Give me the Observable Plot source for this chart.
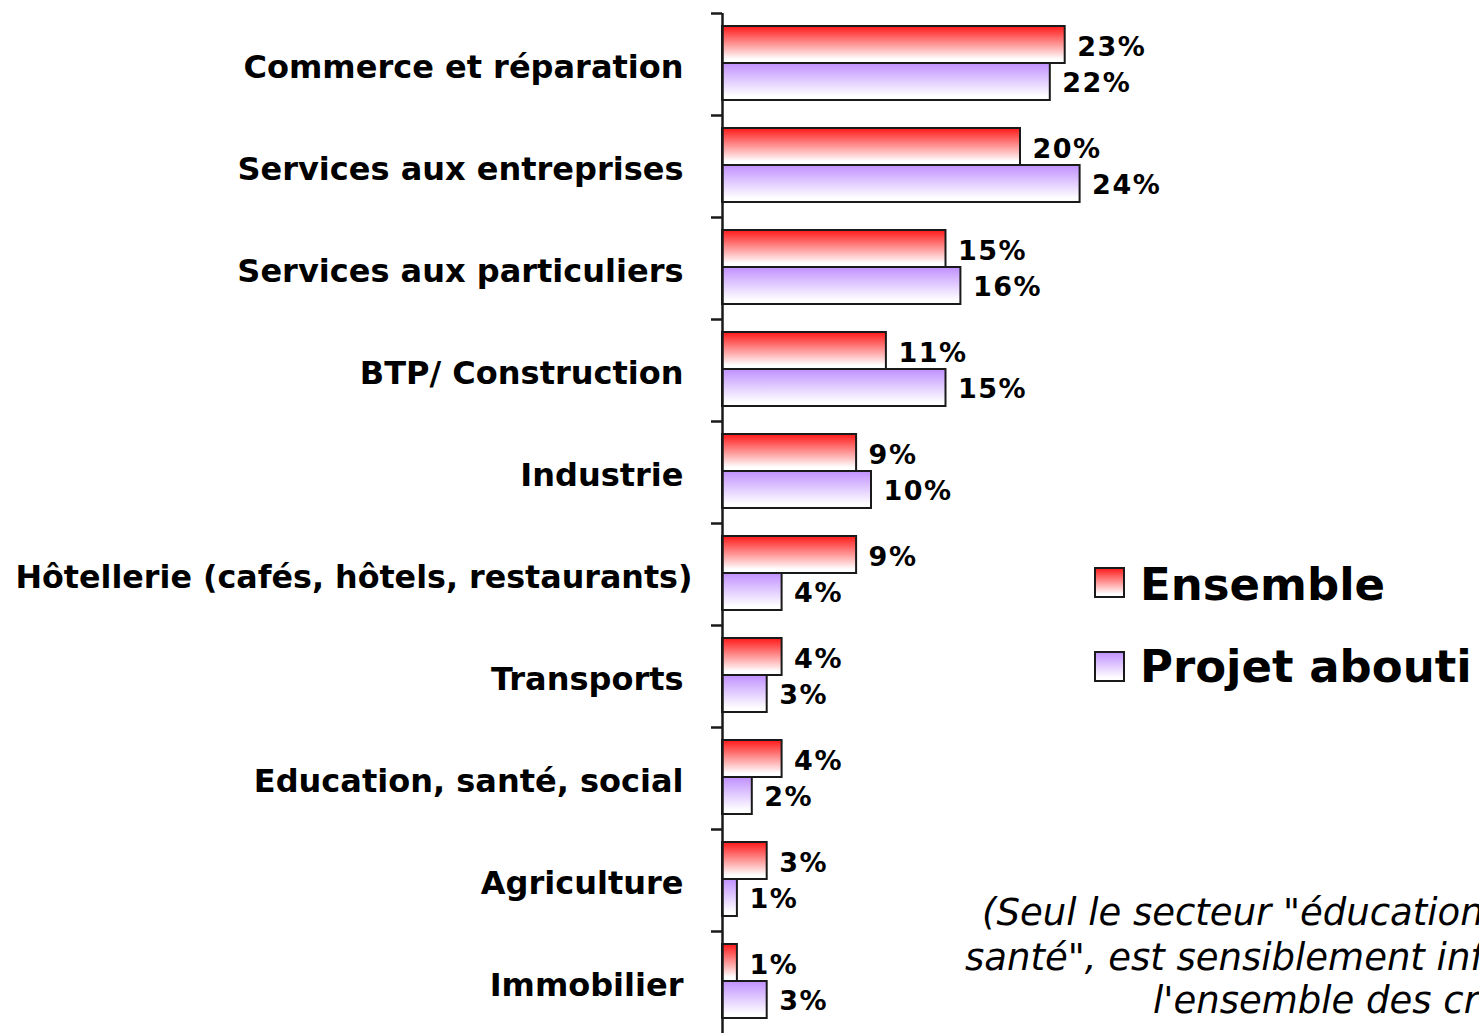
<!DOCTYPE html>
<html>
<head>
<meta charset="utf-8">
<script src="https://cdn.jsdelivr.net/npm/d3@7"></script>
<script src="https://cdn.jsdelivr.net/npm/@observablehq/plot@0.6"></script>
<style>
  html, body { margin: 0; padding: 0; background: #fff; overflow: hidden; }
  #wrap { position: relative; width: 1479px; height: 1034px; overflow: hidden; }
  #overlay { position: absolute; left: 0; top: 0; pointer-events: none; }
</style>
</head>
<body>
<div id="wrap"></div>
<script>
const categories = [
  "Commerce et réparation",
  "Services aux entreprises",
  "Services aux particuliers",
  "BTP/ Construction",
  "Industrie",
  "Hôtellerie (cafés, hôtels, restaurants)",
  "Transports",
  "Education, santé, social",
  "Agriculture",
  "Immobilier"
];
const seriesNames = ["Ensemble", "Projet abouti"];
const ensemble = [23, 20, 15, 11, 9, 9, 4, 4, 3, 1];
const projet   = [22, 24, 16, 15, 10, 4, 3, 2, 1, 3];
const noteLines = [
  "(Seul le secteur \"éducation, social,",
  "santé\", est sensiblement inférieur à",
  "l'ensemble des créations)"
];

const rowsE = categories.map((c, i) => ({category: c, series: seriesNames[0], value: ensemble[i]}));
const rowsP = categories.map((c, i) => ({category: c, series: seriesNames[1], value: projet[i]}));

const FONT = "'DejaVu Sans', Verdana, sans-serif";
const STROKE = "#1a1a1a";

const chart = Plot.plot({
  width: 1479,
  height: 1034,
  marginLeft: 722,
  marginRight: 12,
  marginTop: 13,
  marginBottom: 1,
  style: {fontFamily: FONT, background: "#fff", color: "#000"},
  x: {domain: [0, 50], axis: null},
  y: {domain: categories, padding: 0, axis: null},
  marks: [
    Plot.barX(rowsE, {x: "value", y: "category", fill: "url(#gradRed)", stroke: STROKE, strokeWidth: 2, insetTop: 13, insetBottom: 52}),
    Plot.barX(rowsP, {x: "value", y: "category", fill: "url(#gradPurple)", stroke: STROKE, strokeWidth: 2, insetTop: 50, insetBottom: 15}),
    Plot.ruleX([0], {stroke: STROKE, strokeWidth: 2.5}),
    Plot.axisY({anchor: "left", label: null, tickSize: 11, tickFormat: () => "", dy: -51, stroke: STROKE, strokeWidth: 2.5}),
    Plot.axisY({anchor: "left", label: null, tickSize: 0, tickPadding: 39, fontSize: 32, fontWeight: "bold", dy: 3, fill: "#000"}),
    Plot.text(rowsE, {x: "value", y: "category", text: d => d.value + "%", dx: 12, dy: -17, textAnchor: "start", fontSize: 27, fontWeight: "bold", fill: "#000"}),
    Plot.text(rowsP, {x: "value", y: "category", text: d => d.value + "%", dx: 12, dy: 19, textAnchor: "start", fontSize: 27, fontWeight: "bold", fill: "#000"})
  ]
});

// gradients
const NS = "http://www.w3.org/2000/svg";
function makeGrad(id, top) {
  const g = document.createElementNS(NS, "linearGradient");
  g.setAttribute("id", id);
  g.setAttribute("x1", "0"); g.setAttribute("y1", "0");
  g.setAttribute("x2", "0"); g.setAttribute("y2", "1");
  const stops = [[0, top], [0.9, "#ffffff"], [1, "#ffffff"]];
  stops.forEach(([o, c]) => {
    const s = document.createElementNS(NS, "stop");
    s.setAttribute("offset", o); s.setAttribute("stop-color", c);
    g.appendChild(s);
  });
  return g;
}
const defs = document.createElementNS(NS, "defs");
defs.appendChild(makeGrad("gradRed", "#ff1818"));
defs.appendChild(makeGrad("gradPurple", "#c090ff"));
chart.insertBefore(defs, chart.firstChild);

// letter spacing for the value labels, compress the long category label
chart.querySelectorAll("text").forEach(t => {
  if (/%$/.test(t.textContent)) t.setAttribute("letter-spacing", "1.5");
  if (t.textContent === categories[5]) {
    t.setAttribute("textLength", "677");
    t.setAttribute("lengthAdjust", "spacingAndGlyphs");
    t.setAttribute("x", "9");
  }
});

const wrap = document.getElementById("wrap");
wrap.appendChild(chart);

// legend + note overlay
const ov = document.createElementNS(NS, "svg");
ov.setAttribute("id", "overlay");
ov.setAttribute("width", "1479");
ov.setAttribute("height", "1034");
ov.setAttribute("font-family", FONT);
const odefs = document.createElementNS(NS, "defs");
odefs.appendChild(makeGrad("lgRed", "#ff1818"));
odefs.appendChild(makeGrad("lgPurple", "#c090ff"));
ov.appendChild(odefs);
const legendItems = [
  {name: seriesNames[0], grad: "lgRed", top: 568, base: 600},
  {name: seriesNames[1], grad: "lgPurple", top: 652, base: 682}
];
legendItems.forEach(it => {
  const r = document.createElementNS(NS, "rect");
  r.setAttribute("x", 1095); r.setAttribute("y", it.top);
  r.setAttribute("width", 29); r.setAttribute("height", 29);
  r.setAttribute("fill", `url(#${it.grad})`);
  r.setAttribute("stroke", STROKE); r.setAttribute("stroke-width", 2);
  ov.appendChild(r);
  const t = document.createElementNS(NS, "text");
  t.setAttribute("x", 1140); t.setAttribute("y", it.base);
  t.setAttribute("font-size", 45); t.setAttribute("font-weight", "bold");
  t.textContent = it.name;
  ov.appendChild(t);
});
const notePos = [{x: 982, y: 925}, {x: 965, y: 970}, {x: 1153, y: 1013}];
noteLines.forEach((line, i) => {
  const t = document.createElementNS(NS, "text");
  t.setAttribute("x", notePos[i].x); t.setAttribute("y", notePos[i].y);
  t.setAttribute("font-size", 37); t.setAttribute("font-style", "italic");
  t.textContent = line;
  ov.appendChild(t);
});
wrap.appendChild(ov);
</script>
</body>
</html>
